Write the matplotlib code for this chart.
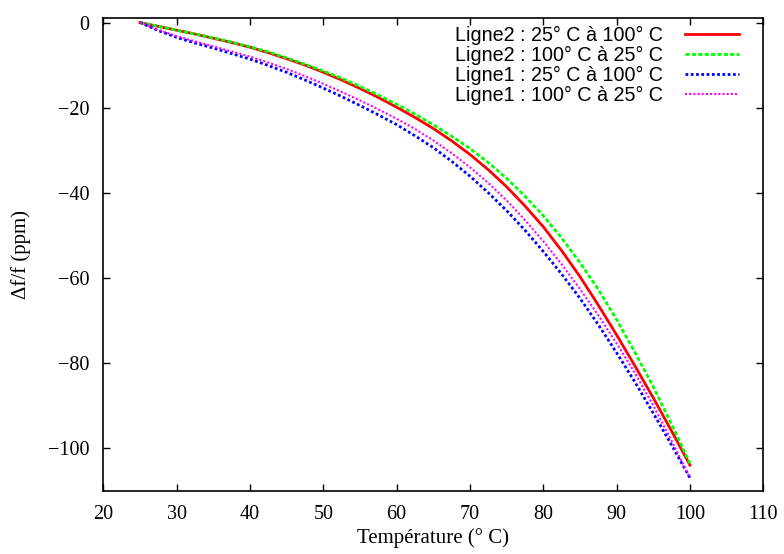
import numpy as np
import matplotlib
matplotlib.use('Agg')
import matplotlib.pyplot as plt

# Températures (° C)
temperature = [25, 27.5, 30, 32.5, 35, 37.5, 40, 42.5, 45, 47.5, 50, 52.5, 55, 57.5,
               60, 62.5, 65, 67.5, 70, 72.5, 75, 77.5, 80, 82.5, 85, 87.5, 90, 92.5,
               95, 97.5, 100]

# Δf/f (ppm)
ligne2_montee = [0, -0.9, -1.8, -2.7, -3.7, -4.7, -5.8, -7.1, -8.5, -10.0, -11.7,
                 -13.5, -15.5, -17.6, -19.9, -22.3, -24.9, -27.8, -31.0, -34.6, -38.6,
                 -43.1, -48.0, -53.6, -59.7, -66.4, -73.4, -80.7, -88.2, -96.0, -104.0]
ligne2_descente = [0, -0.9, -1.8, -2.7, -3.6, -4.6, -5.7, -6.9, -8.3, -9.8, -11.4,
                   -13.1, -15.0, -17.0, -19.2, -21.5, -24.0, -26.7, -29.6, -32.9, -36.6,
                   -40.8, -45.4, -50.6, -56.4, -62.7, -69.8, -77.5, -85.6, -94.4, -103.6]
ligne1_montee = [0, -1.9, -3.5, -4.8, -6.0, -7.3, -8.6, -10.1, -11.7, -13.5, -15.4,
                 -17.4, -19.5, -21.7, -24.0, -26.6, -29.4, -32.6, -36.1, -40.0, -44.2,
                 -48.8, -53.8, -59.1, -64.8, -71.0, -77.6, -84.5, -91.8, -99.3, -107.0]
ligne1_descente = [0, -1.7, -3.2, -4.4, -5.6, -6.8, -8.0, -9.4, -10.9, -12.6, -14.4,
                   -16.3, -18.3, -20.4, -22.6, -25.0, -27.7, -30.7, -34.0, -37.7, -41.8,
                   -46.4, -51.4, -56.8, -62.6, -68.8, -75.4, -82.4, -90.0, -98.3, -107.0]

labels = ['Ligne2 : 25° C à 100° C', 'Ligne2 : 100° C à 25° C',
          'Ligne1 : 25° C à 100° C', 'Ligne1 : 100° C à 25° C']

serif = ['Liberation Serif', 'DejaVu Serif']

fig = plt.figure(figsize=(7.84, 5.54), dpi=100)
ax = fig.add_axes([0.1318, 0.1143, 0.9736 - 0.1318, 0.967 - 0.1143])

ax.plot(temperature, ligne2_montee, color='#ff0000', lw=2.0, label=labels[0])
ax.plot(temperature, ligne2_descente, color='#00ff00', lw=2.0, dashes=(1.5, 0.8), label=labels[1])
ax.plot(temperature, ligne1_montee, color='#0000ff', lw=2.0, dashes=(1.0, 0.9), label=labels[2])
ax.plot(temperature, ligne1_descente, color='#ff00ff', lw=1.5, dashes=(1.0, 1.0), label=labels[3])

ax.set_xlim(20, 110)
ax.set_ylim(-110, 1)
ax.set_xticks(np.arange(20, 111, 10))
ax.set_yticks(np.arange(-100, 1, 20))
ax.tick_params(direction='in', top=True, right=True, length=5, width=1, pad=10)
for lab in ax.get_xticklabels() + ax.get_yticklabels():
    lab.set_family(serif)
    lab.set_fontsize(14.5)
for s in ax.spines.values():
    s.set_linewidth(1.2)

ax.set_xlabel('Température (° C)', family=serif, fontsize=15, labelpad=3)
ax.set_ylabel('Δf/f (ppm)', family=serif, fontsize=15, labelpad=12)

leg = ax.legend(loc='upper right', bbox_to_anchor=(739 / 784, 1 - 26 / 554),
                bbox_transform=fig.transFigure, frameon=False, markerfirst=False,
                borderpad=0, borderaxespad=0, handlelength=2.75, handletextpad=1.1,
                labelspacing=0.04, prop={'family': ['Liberation Sans', 'DejaVu Sans'], 'size': 14.2})

fig.savefig('out.png', dpi=100)
